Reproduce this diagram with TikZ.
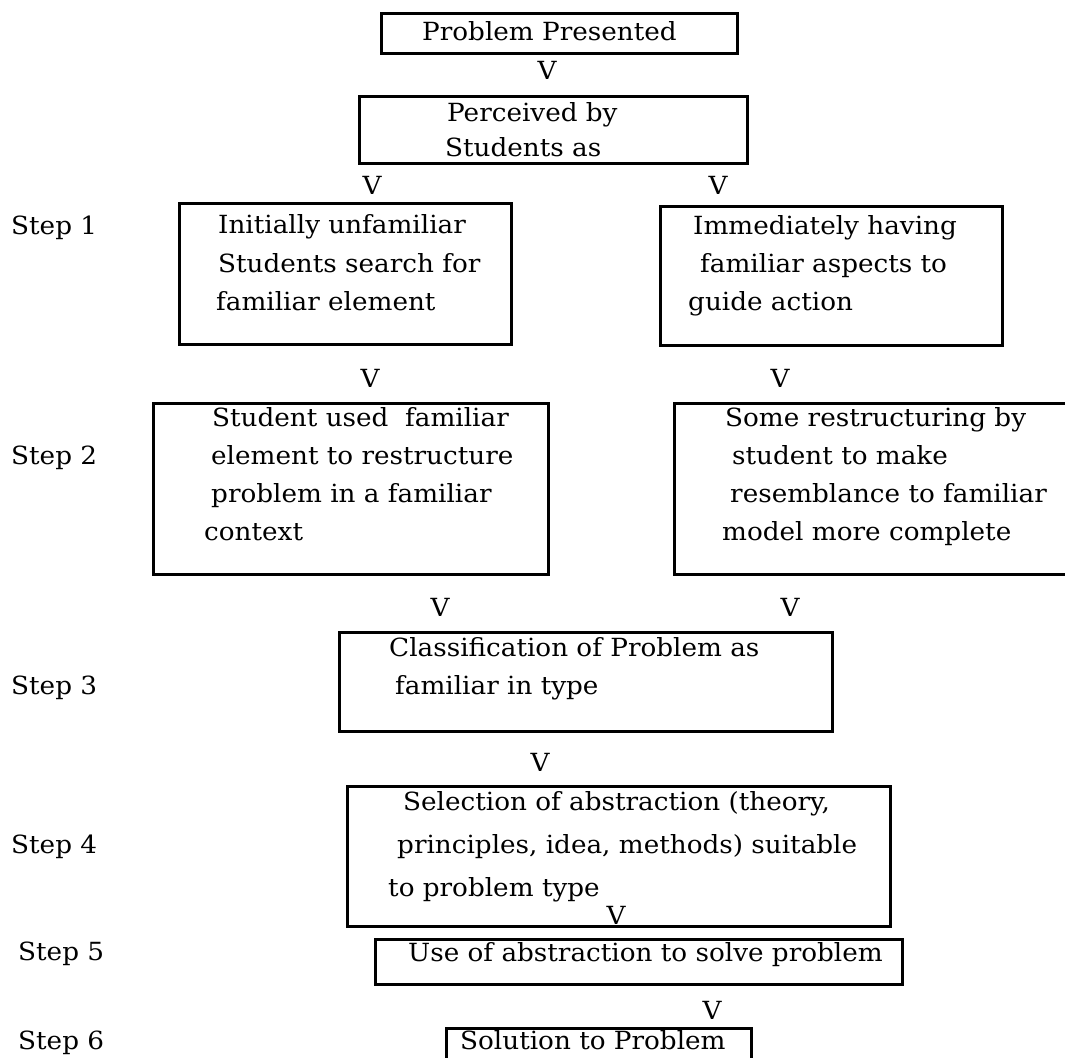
\documentclass[tikz,border=0pt]{standalone}
\usepackage{fontspec}
\setmainfont{DejaVu Serif}[FakeStretch=1.05]
\begin{document}
\begin{tikzpicture}[x=1pt,y=-1pt,
  box/.style={draw, line width=2.8pt, rectangle, inner sep=0pt, anchor=north west},
  txt/.style={anchor=base west, inner sep=0pt, yshift=-8pt, font=\fontsize{25}{30}\selectfont},
  vmark/.style={inner sep=0pt, font=\fontsize{25}{30}\selectfont},
  steplbl/.style={anchor=base west, inner sep=0pt, yshift=-8pt, font=\fontsize{25}{30}\selectfont}]
\clip (0,0) rectangle (1065,1057);
\fill[white] (0,0) rectangle (1065,1057);
% boxes
\node[box, minimum width=356pt, minimum height=40pt] (b0) at (380,12) {};
\node[box, minimum width=388pt, minimum height=67pt] (b1) at (358,95) {};
\node[box, minimum width=332pt, minimum height=141pt] (b2l) at (178,202) {};
\node[box, minimum width=342pt, minimum height=139pt] (b2r) at (659,205) {};
\node[box, minimum width=395pt, minimum height=171pt] (b3l) at (152,402) {};
\node[box, minimum width=420pt, minimum height=171pt] (b3r) at (673,402) {};
\node[box, minimum width=493pt, minimum height=99pt] (b4) at (338,631) {};
\node[box, minimum width=543pt, minimum height=140pt] (b5) at (346,785) {};
\node[box, minimum width=527pt, minimum height=45pt] (b6) at (374,938) {};
\node[box, minimum width=305pt, minimum height=60pt] (b7) at (445,1027) {};
% texts
\node[txt] (t0) at (422,33) {Problem Presented};
\node[txt] (t1a) at (447,113) {Perceived by};
\node[txt] (t1b) at (445,148) {Students as};
\node[txt] (t2a) at (218,225) {Initially unfamiliar};
\node[txt] (t2b) at (218,264) {Students search for};
\node[txt] (t2c) at (216,302) {familiar element};
\node[txt] (t3a) at (693,226) {Immediately having};
\node[txt] (t3b) at (700,264) {familiar aspects to};
\node[txt] (t3c) at (688,302) {guide action};
\node[txt] (t4a) at (212,418) {Student used\ \ familiar};
\node[txt] (t4b) at (211,456) {element to restructure};
\node[txt] (t4c) at (211,494) {problem in a familiar};
\node[txt] (t4d) at (204,532) {context};
\node[txt] (t5a) at (725,418) {Some restructuring by};
\node[txt] (t5b) at (732,456) {student to make};
\node[txt] (t5c) at (730,494) {resemblance to familiar};
\node[txt] (t5d) at (722,532) {model more complete};
\node[txt] (t6a) at (389,648) {Classification of Problem as};
\node[txt] (t6b) at (395,686) {familiar in type};
\node[txt] (t7a) at (403,802) {Selection of abstraction (theory,};
\node[txt] (t7b) at (397,845) {principles, idea, methods) suitable};
\node[txt] (t7c) at (388,888) {to problem type};
\node[txt] (t8) at (408,953) {Use of abstraction to solve problem};
\node[txt] (t9) at (460,1041) {Solution to Problem};
% step labels
\node[steplbl] (s1) at (11,226) {Step 1};
\node[steplbl] (s2) at (11,456) {Step 2};
\node[steplbl] (s3) at (11,686) {Step 3};
\node[steplbl] (s4) at (11,845) {Step 4};
\node[steplbl] (s5) at (18,952) {Step 5};
\node[steplbl] (s6) at (18,1041) {Step 6};
% V marks
\node[vmark] (v1) at (547,70) {V};
\node[vmark] (v2) at (372,185) {V};
\node[vmark] (v3) at (718,185) {V};
\node[vmark] (v4) at (370,378) {V};
\node[vmark] (v5) at (780,378) {V};
\node[vmark] (v6) at (440,607) {V};
\node[vmark] (v7) at (790,607) {V};
\node[vmark] (v8) at (540,762) {V};
\node[vmark] (v9) at (616,915) {V};
\node[vmark] (v10) at (712,1010) {V};
\end{tikzpicture}
\end{document}
